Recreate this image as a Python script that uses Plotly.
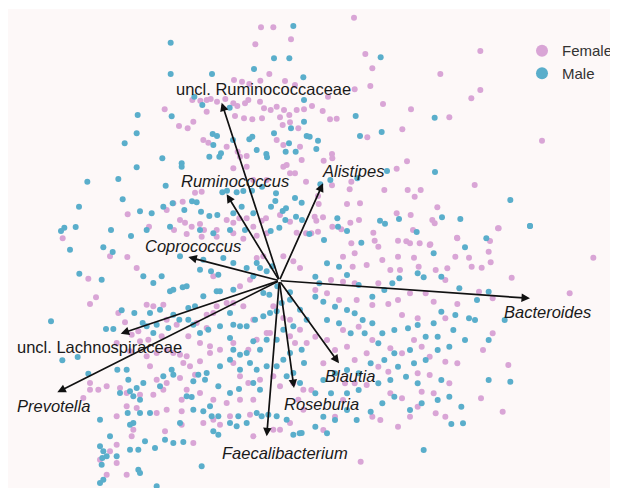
import plotly.graph_objects as go

# Sample scores (ordination units)
female_pts = [
    # upper-left area
    (783,82),(820,82),(873,118),(766,133),(808,222),(726,245),(702,240),(748,252),(781,242),(855,243),(885,255),
    (494,328),(537,378),(563,385),(580,365),(577,300),(601,302),(620,300),(632,297),(651,305),(676,297),(700,310),
    (712,318),(735,310),(745,300),(780,305),(792,325),(812,330),(830,320),(852,330),(868,345),(890,330),(912,328),
    (620,335),(705,348),(732,355),(757,358),(786,355),(840,352),(848,375),(870,367),(895,385),(610,420),(625,428),
    (680,440),(713,455),(720,470),(740,468),(740,500),(700,505),(830,420),(850,435),(900,440),(905,480),(850,500),
    (860,495),(870,520),(918,545),(885,520),(760,540),(800,540),(605,575),(585,578),(548,605),(520,610),(500,630),
    (383,643),(540,660),(555,668),(575,680),(600,672),(612,690),(650,690),(680,660),(700,668),(718,655),(740,655),
    (760,680),(785,662),(798,655),(840,645),(870,665),(890,698),(918,700),(188,715),(447,680),(522,690),(560,702),
    (605,710),(650,710),(700,700),(730,716),(770,707),(800,700),
    # upper-right area
    (1062,53),(1096,162),(1117,205),(1111,258),(1064,268),(984,290),(936,318),(968,333),(990,358),(1010,356),
    (1149,312),(1233,328),(1348,352),(1321,222),(1441,153),(1414,295),(1441,270),(1626,422),(1207,388),(1102,412),
    (996,462),(997,475),(971,482),(1221,484),(1190,506),(1054,545),(1049,568),(996,556),(954,588),(1153,570),
    (1223,570),(1262,570),(1244,590),(1424,555),(1312,622),(1041,612),(1080,610),(956,612),(944,650),(969,652),
    (949,662),(1077,660),(1051,668),(997,680),(1024,688),(1120,698),(1190,640),(1232,645),(1297,660),(1304,670),
    (1239,690),(1371,713),(1496,685),(1470,723),(1054,730),(1124,722),(1194,722),(1219,724),(1259,730),(1291,733),
    (934,700),(954,695),
    # lower-left area
    (330,769),(382,771),(410,804),(265,836),(288,892),(270,912),(355,939),(375,967),(395,1004),(440,914),(460,919),
    (490,914),(500,959),(530,974),(485,1009),(445,1019),(415,994),(565,1009),(590,969),(620,984),(640,939),(600,1029),
    (630,1059),(560,1069),(550,1089),(540,1064),(520,1059),(500,1049),(470,1059),(440,1069),(350,1029),(390,1054),
    (420,1024),(450,1099),(470,1139),(500,1149),(540,1134),(570,1099),(585,1124),(600,1084),(630,1039),(660,1049),
    (700,1029),(745,1049),(770,1019),(800,999),(760,959),(730,919),(700,909),(680,909),(650,919),(620,944),(640,829),
    (720,859),(750,839),(770,774),(790,769),(850,769),(880,784),(900,804),(820,919),(850,954),(870,1009),(900,989),
    (920,1029),(885,1029),(870,959),(810,999),(700,1089),(720,1129),(745,1149),(760,1199),(720,1199),(680,1209),
    (640,1199),(600,1179),(560,1169),(545,1199),(490,1169),(460,1184),(420,1184),(380,1179),(360,1164),(320,1159),
    (295,1169),(270,1169),(250,1194),(380,1219),(410,1224),(350,1249),(470,1239),(500,1229),(545,1234),(610,1269),
    (640,1259),(660,1274),(690,1249),(750,1244),(760,1309),(820,1289),(840,1289),(870,1269),(910,1229),(400,1289),
    (395,1309),(495,1294),(545,1274),(580,1329),(350,1334),(330,1354),(350,1389),(380,1424),(320,1424),(300,1379),
    (270,1149),(780,1139),(820,1129),(840,1159),(880,1149),(895,1199),(910,1169),
    # lower-right area
    (1780,773),(1709,880),(1535,833),(1494,685),(1366,770),(1407,773),(1445,803),(1472,787),(1415,800),(1342,805),
    (1336,840),(1307,810),(1256,800),(1200,810),(1171,810),(1242,773),(1194,770),(1147,780),(1100,795),(1058,800),
    (1029,770),(1064,760),(1135,740),(1230,730),(1289,735),(1372,715),(1466,755),(1372,912),(1437,875),(1478,895),
    (1301,905),(1277,880),(1230,880),(1194,900),(1165,912),(1117,915),(1070,900),(1017,900),(981,880),(946,870),
    (1135,850),(1064,850),(1029,845),(993,840),(1206,945),(1253,955),(1336,955),(1478,1000),(1449,1050),(1525,1095),
    (1443,1195),(1508,1235),(1336,1250),(1307,1240),(1253,1220),(1265,1175),(1206,1195),(1171,1180),(1165,1115),
    (1135,1100),(1100,1155),(1064,1150),(1035,1150),(970,1090),(1064,1080),(1100,1060),(1117,1020),(1171,1045),
    (1206,1060),(1242,1020),(1265,1040),(1289,1070),(1336,1085),(1372,1090),(1253,1120),(1289,1125),(1301,1180),
    (1348,1150),(946,1010),(981,1020),(1029,990),(1076,980),(1041,1040),(1005,1050),(1082,1385),(1117,1250),
    (1141,1260),(1194,1280),(1230,1250),(1029,1200),(1005,1250),(934,1170),(970,1290),
]

male_pts = [
    # upper-left area
    (880,78),(512,128),(822,175),(868,175),(512,222),(636,222),(762,207),(910,232),(583,290),(607,315),(689,323),
    (413,345),(515,349),(410,400),(374,430),(487,475),(410,502),(545,490),(545,500),(262,545),(355,537),(497,557),
    (368,598),(237,620),(193,683),(183,693),(227,681),(333,690),(393,708),(420,634),(455,640),(490,620),(518,610),
    (553,630),(576,604),(590,607),(603,635),(628,648),(652,645),(658,470),(628,470),(638,402),(651,408),(640,435),
    (663,460),(699,420),(748,418),(757,410),(770,450),(799,462),(801,472),(822,400),(873,385),(912,365),(920,408),
    (867,430),(857,455),(887,455),(667,577),(681,572),(710,577),(730,573),(756,572),(786,560),(828,580),(826,603),
    (813,620),(848,633),(858,625),(812,693),(838,683),(856,660),(905,608),(885,594),(888,650),(906,660),(912,300),
    (440,690),(510,680),(600,690),(640,700),(690,690),(735,690),(760,640),(700,640),(725,620),
    # upper-right area
    (1142,172),(1067,348),(1080,408),(1145,396),(1304,353),(954,422),(949,447),(929,410),(1161,513),(1305,516),
    (961,553),(991,540),(1072,535),(1531,600),(1590,678),(1381,657),(1326,652),(1197,657),(1140,662),(1155,671),
    (1012,655),(1014,680),(1041,693),(1250,696),(1459,715),(972,720),(1084,728),(928,702),
    # lower-left area
    (210,749),(310,742),(338,756),(238,821),(305,839),(153,964),(187,1081),(233,1071),(265,1121),(318,987),(340,987),
    (365,931),(403,939),(430,829),(460,849),(485,829),(510,874),(520,869),(548,862),(560,859),(540,769),(600,809),
    (610,779),(633,814),(655,824),(670,774),(700,789),(740,804),(770,789),(780,804),(800,814),(817,799),(760,829),
    (790,879),(808,884),(832,859),(870,877),(650,874),(660,874),(700,869),(610,889),(585,919),(565,924),(520,944),
    (480,929),(450,939),(428,969),(440,979),(470,974),(460,999),(505,984),(538,959),(565,959),(580,974),(600,999),
    (625,989),(660,979),(690,939),(700,974),(690,1014),(720,979),(740,979),(765,959),(790,949),(810,939),(830,934),
    (845,909),(870,899),(900,929),(920,959),(880,979),(850,989),(830,1019),(800,1019),(780,1049),(760,1024),
    (740,1059),(720,1064),(700,1049),(690,1079),(660,1099),(720,1109),(750,1089),(770,1109),(800,1099),(830,1099),
    (850,1079),(870,1059),(905,1049),(912,1089),(880,1119),(860,1129),(900,1149),(780,1169),(760,1149),(717,1167),
    (690,1179),(655,1159),(615,1139),(620,1119),(595,1124),(580,1144),(520,1124),(515,1109),(490,1129),(480,1159),
    (430,1149),(410,1164),(385,1139),(380,1109),(352,1109),(390,1174),(400,1189),(360,1179),(420,1199),(450,1239),
    (420,1239),(400,1269),(390,1274),(383,1239),(300,1259),(330,1309),(300,1339),(310,1354),(307,1374),(305,1394),
    (320,1369),(350,1369),(390,1349),(415,1349),(435,1324),(465,1344),(495,1319),(520,1329),(550,1326),(560,1189),
    (575,1191),(580,1229),(610,1234),(630,1219),(635,1249),(655,1249),(655,1304),(640,1294),(690,1269),(710,1279),
    (715,1249),(740,1269),(770,1239),(785,1249),(805,1244),(830,1249),(860,1259),(880,1304),(905,1299),(300,1449),
    (310,1439),(415,1409),(420,1419),(470,1459),(605,1399),(540,1269),
    # lower-right area
    (1590,678),(1395,742),(1301,760),(1271,832),(1253,820),(1198,835),(1177,850),(1153,870),(1117,890),(1076,855),
    (1041,825),(1017,800),(981,790),(946,830),(958,850),(1324,830),(1378,865),(1431,900),(1466,875),(1514,960),
    (1407,955),(1366,945),(1324,935),(1301,970),(1253,975),(1224,985),(1183,990),(1147,1000),(1117,970),(1088,960),
    (1064,940),(1041,930),(1005,920),(970,905),(946,890),(981,960),(1017,970),(1052,1000),(1094,1000),(1135,1030),
    (1183,1060),(1230,1050),(1277,1010),(1313,1010),(1360,990),(1395,1020),(1348,1040),(1313,1050),(1277,1080),
    (1242,1090),(1194,1100),(1153,1080),(1112,1090),(1076,1120),(1041,1110),(1005,1120),(970,1140),(946,1180),
    (993,1180),(1041,1180),(1076,1170),(1135,1150),(1171,1140),(1218,1130),(1253,1150),(1324,1140),(1348,1190),
    (1384,1220),(1389,1270),(1354,1272),(1313,1200),(1265,1210),(1230,1230),(1183,1190),(1147,1210),(1112,1235),
    (1070,1260),(1041,1230),(1005,1260),(970,1250),(946,1280),(981,1300),(899,1300),(1271,1350),(1466,1140),
    (1531,1145),(1466,1020),(1425,960),
]

# Loadings (arrow tips) and label anchors
origin = (838, 842)
taxa = ["uncl. Ruminococcaceae", "Ruminococcus", "Alistipes", "Coprococcus", "Bacteroides",
        "uncl. Lachnospiraceae", "Prevotella", "Faecalibacterium", "Roseburia", "Blautia"]
tip_x = [665, 680, 969, 565, 1590, 362, 172, 800, 882, 1017]
tip_y = [308, 583, 550, 771, 895, 1001, 1177, 1309, 1164, 1090]
label_x = [789, 705, 1058, 580, 1642, 298, 160, 855, 964, 1049]
label_y = [268, 542, 513, 739, 936, 1041, 1217, 1360, 1213, 1127]
italic = [False, True, True, True, True, False, True, True, True, True]

fx = [p[0] for p in female_pts]; fy = [p[1] for p in female_pts]
mx = [p[0] for p in male_pts]; my = [p[1] for p in male_pts]

PINK = "#d9a5d6"
BLUE = "#5aaecb"
FONT = "Liberation Sans, Arial, sans-serif"

fig = go.Figure()
fig.add_trace(go.Scatter(x=fx, y=fy, mode="markers", name="Female",
                         marker=dict(color=PINK, size=6, line=dict(width=0))))
fig.add_trace(go.Scatter(x=mx, y=my, mode="markers", name="Male",
                         marker=dict(color=BLUE, size=6, line=dict(width=0))))

ann = []
for i, t in enumerate(taxa):
    ann.append(dict(x=tip_x[i], y=tip_y[i], ax=origin[0], ay=origin[1], xref="x", yref="y",
                    axref="x", ayref="y", text="", showarrow=True, arrowhead=2, arrowsize=1,
                    arrowwidth=1.7, arrowcolor="#111111", standoff=0, startstandoff=0))
for i, t in enumerate(taxa):
    txt = f"<i>{t}</i>" if italic[i] else t
    ann.append(dict(x=label_x[i], y=label_y[i], xref="x", yref="y", text=txt, showarrow=False,
                    font=dict(family=FONT, size=16.5, color="#1a1a1a"), xanchor="center", yanchor="middle"))

fig.update_layout(
    width=610, height=480,
    margin=dict(l=0, r=0, t=1, b=0, autoexpand=False),
    paper_bgcolor="white", plot_bgcolor="#fdf8f8",
    xaxis=dict(range=[24, 1854], visible=False, showgrid=False, zeroline=False),
    yaxis=dict(range=[1464, 27], visible=False, showgrid=False, zeroline=False),
    showlegend=True,
    legend=dict(x=1.0, y=0.947, xanchor="right", yanchor="top", bgcolor="rgba(0,0,0,0)",
                font=dict(family=FONT, size=15, color="#333333"), itemsizing="constant",
                tracegroupgap=0, itemwidth=30),
    annotations=ann,
)
fig.write_html("out.html")
